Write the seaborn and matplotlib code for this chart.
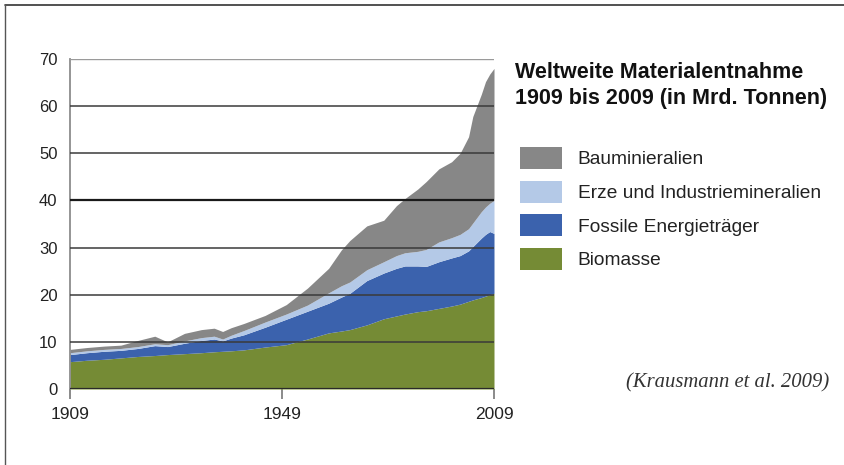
import matplotlib
matplotlib.use("Agg")
import matplotlib.pyplot as plt
from matplotlib.lines import Line2D
from matplotlib.patches import Patch
import seaborn as sns
import numpy as np

# values (Mrd. Tonnen), per category
years = [1909, 1913, 1917, 1921, 1925, 1929, 1932, 1936, 1940, 1943, 1945, 1947,
         1950, 1955, 1960, 1965, 1970, 1973, 1975, 1979, 1983, 1986, 1988, 1991,
         1993, 1996, 1999, 2001, 2003, 2004, 2006, 2007, 2008, 2009]
biomasse = [5.8, 6.1, 6.3, 6.6, 6.9, 7.1, 7.3, 7.5, 7.7, 7.9, 8.0, 8.1,
            8.3, 8.9, 9.4, 10.6, 11.9, 12.3, 12.6, 13.6, 14.9, 15.5, 15.9, 16.4,
            16.6, 17.1, 17.6, 18.0, 18.6, 18.9, 19.4, 19.7, 20.0, 20.3]
fossil = [1.5, 1.6, 1.7, 1.6, 1.7, 2.1, 1.7, 2.2, 2.6, 2.7, 2.2, 2.7,
          3.2, 4.2, 5.4, 5.9, 6.3, 7.2, 7.7, 9.4, 9.7, 10.1, 10.2, 9.7,
          9.4, 9.9, 10.2, 10.3, 10.7, 11.3, 12.6, 13.1, 13.4, 12.7]
erze = [0.4, 0.4, 0.4, 0.4, 0.4, 0.4, 0.4, 0.5, 0.6, 0.6, 0.4, 0.6,
        0.9, 1.1, 1.1, 1.3, 2.2, 2.4, 2.4, 2.3, 2.4, 2.7, 2.8, 3.1,
        3.6, 4.2, 4.3, 4.5, 4.7, 5.0, 5.6, 5.8, 6.0, 7.0]
baumineralien = [0.7, 0.7, 0.7, 0.7, 1.3, 1.6, 0.6, 1.6, 1.7, 1.7, 1.6, 1.6,
                 1.5, 1.4, 2.0, 3.6, 5.2, 7.6, 8.8, 9.3, 8.8, 10.6, 11.5, 13.2,
                 14.4, 15.5, 16.1, 17.2, 19.5, 22.6, 24.9, 26.6, 27.4, 28.0]

labels = ["Biomasse", "Fossile Energieträger", "Erze und Industriemineralien", "Bauminieralien"]
colors = ["#758b35", "#3b62ad", "#b4c9e7", "#878787"]

y_ticks = [0, 10, 20, 30, 40, 50, 60, 70]
x_tick_pos = [1909, 1959, 2009]
x_tick_labels = ["1909", "1949", "2009"]

sns.set_theme(style="white")
plt.rcParams["font.family"] = ["Liberation Sans", "DejaVu Sans"]

fig = plt.figure(figsize=(8.44, 4.65), dpi=100)
ax = fig.add_axes([70 / 844, 76 / 465, 424 / 844, 330 / 465])

ax.stackplot(years, biomasse, fossil, erze, baumineralien,
             colors=colors, linewidth=0, zorder=1)

# horizontal rules drawn over the areas
for v in y_ticks[1:]:
    if v == 70:
        c, lw = "#9a9a9a", 1.0
    elif v == 40:
        c, lw = "#1a1a1a", 1.6
    else:
        c, lw = "#3a3a3a", 1.1
    ax.axhline(v, color=c, lw=lw, zorder=3)
ax.axhline(0, color="#2a2a2a", lw=1.6, zorder=3)

ax.set_xlim(1909, 2009)
ax.set_ylim(0, 70)
ax.set_yticks(y_ticks)
ax.set_yticklabels([str(v) for v in y_ticks], fontsize=12, color="#222222")
ax.set_xticks(x_tick_pos)
ax.set_xticklabels(x_tick_labels, fontsize=12.5, color="#222222")
ax.tick_params(axis="y", length=0, pad=9)
ax.tick_params(axis="x", length=7, width=1.2, color="#777777", direction="out", pad=6,
               bottom=True)

for s in ["top", "right", "bottom"]:
    ax.spines[s].set_visible(False)
ax.spines["left"].set_color("#8c8c8c")
ax.spines["left"].set_linewidth(1.3)
ax.spines["left"].set_bounds(-1.3, 70)
ax.patch.set_alpha(0)

# title and legend on the right
fig.text(515 / 844, 1 - 62 / 465, "Weltweite Materialentnahme\n1909 bis 2009 (in Mrd. Tonnen)",
         fontsize=15.5, fontweight="bold", color="#111111", va="top", ha="left",
         linespacing=1.3)

handles = [Patch(facecolor=c, edgecolor="none") for c in colors[::-1]]
fig.legend(handles, labels[::-1], loc="upper left", bbox_to_anchor=(520 / 844, 1 - 147 / 465),
           frameon=False, fontsize=13.8, handlelength=2.2, handleheight=1.4,
           handletextpad=0.8, labelspacing=0.6, labelcolor="#222222",
           borderpad=0, borderaxespad=0)

fig.text(829 / 844, 1 - 383 / 465, "(Krausmann et al. 2009)", fontsize=14.9,
         family=["Liberation Serif", "DejaVu Serif"], style="italic",
         color="#333333", ha="right", va="center")

# frame lines of the original figure
fig.add_artist(Line2D([5 / 844, 1], [1 - 5 / 465, 1 - 5 / 465], color="#333333", lw=1.2))
fig.add_artist(Line2D([5 / 844, 5 / 844], [0, 1 - 5 / 465], color="#555555", lw=1.0))

fig.savefig("out.png", dpi=100, facecolor="white")
